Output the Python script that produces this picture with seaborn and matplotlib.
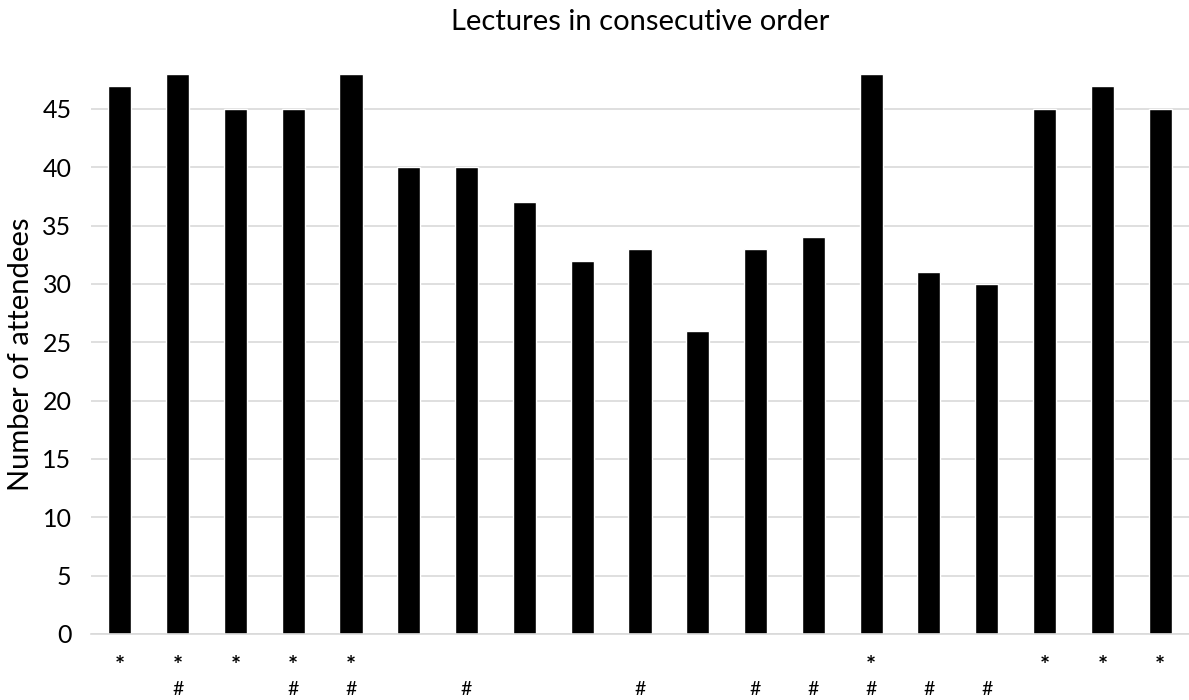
import matplotlib
matplotlib.use('Agg')
import matplotlib.pyplot as plt
import matplotlib.transforms as mtransforms
import seaborn as sns
import pandas as pd

# Attendance per lecture, in order
lectures = [str(i) for i in range(1, 20)]
attendees = [47, 48, 45, 45, 48, 40, 40, 37, 32, 33, 26, 33, 34, 48, 31, 30, 45, 47, 45]
star_marks = ['*', '*', '*', '*', '*', '', '', '', '', '', '', '', '', '*', '', '', '*', '*', '*']
hash_marks = ['', '#', '', '#', '#', '', '#', '', '', '#', '', '#', '#', '#', '#', '#', '', '', '']

df = pd.DataFrame({'Lecture': lectures, 'Num': attendees})

sns.set_style('white')
plt.rcParams['font.family'] = ['Lato', 'DejaVu Sans']
plt.rcParams['text.color'] = 'black'
plt.rcParams['axes.labelcolor'] = 'black'
plt.rcParams['ytick.color'] = 'black'

fig = plt.figure(figsize=(11.89, 7), dpi=100)
ax = fig.add_axes([0.0765, 0.0943, 0.9235, 0.80])

sns.barplot(df, x='Lecture', y='Num', color='black', width=0.4, ax=ax)

ax.set_ylim(0, 48)
ax.set_yticks(range(0, 50, 5))
ax.yaxis.grid(True, color='#d9d9d9', linewidth=1.2)
ax.set_axisbelow(True)
for s in ['top', 'right', 'left']:
    ax.spines[s].set_visible(False)
ax.spines['bottom'].set_color('#d9d9d9')
ax.spines['bottom'].set_linewidth(1.2)
ax.tick_params(axis='both', length=0, labelsize=18)
ax.tick_params(axis='y', pad=14)
ax.set_xticklabels([])
ax.set_xlabel('')
ax.set_ylabel('Number of attendees', fontsize=21, labelpad=6)
ax.set_title('Lectures in consecutive order', fontsize=21, pad=32, color='black')

trans = mtransforms.blended_transform_factory(ax.transData, ax.transAxes)
for i in range(len(lectures)):
    if star_marks[i]:
        ax.text(i, -0.058, star_marks[i], transform=trans, ha='center', va='center', fontsize=17, fontweight='bold')
    if hash_marks[i]:
        ax.text(i, -0.10, hash_marks[i], transform=trans, ha='center', va='center', fontsize=14)

fig.savefig('out.png', dpi=100)
